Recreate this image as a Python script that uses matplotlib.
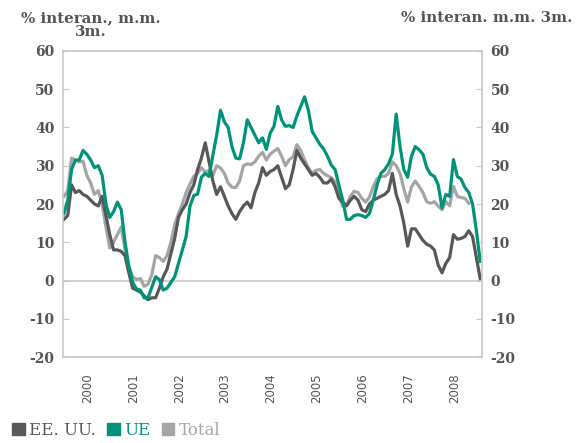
import numpy as np
import matplotlib
matplotlib.use('Agg')
import matplotlib.pyplot as plt
from matplotlib.patches import Patch

plt.rcParams['axes.unicode_minus'] = False

# monthly data, Jan 2000 onwards (% interannual, 3m moving average)
years = ['2000', '2001', '2002', '2003', '2004', '2005', '2006', '2007', '2008']

us = [16, 17, 25, 23, 23.5, 22.5, 22, 21, 20, 19.5, 22, 17,
      12, 8, 8, 7.6, 6.5, 2, -2, -2.5, -3, -4, -5, -4.5,
      -4.5, -2, 1, 3, 7, 11, 16.5, 18.5, 20, 23, 25, 29,
      32, 36, 31, 26, 22.5, 24.5, 22, 19.5, 17.5, 16, 18, 19.5,
      20.5, 19, 23, 25.5, 29.5, 27.5, 28.5, 29, 30, 27, 24, 25,
      29, 34, 32, 30.5, 29, 27.5, 28, 27, 25.5, 25.5, 26.5, 24.5,
      21.5, 20.5, 19.5, 21, 22, 21, 18.5, 18, 20, 21, 21.5, 22,
      22.5, 23.5, 28, 22.5, 19.5, 15, 9, 13.5, 13.5, 12, 10.5, 9.5,
      9, 8, 4, 2, 4.5, 6, 12, 10.8, 11, 11.5, 13, 11.5,
      6, 0.5]

eu = [17.5, 21, 29, 31.5, 31.5, 34, 33, 31.5, 29.5, 30, 27.5, 20,
      16.5, 18, 20.5, 18.5, 10, 3.7, -0.5, -2.2, -2.5, -4.5, -4.5, -1.8,
      1, 0.2, -2.5, -2, -0.5, 1, 4.5, 8, 11.5, 19.4, 22.2, 22.6,
      27, 28, 27.2, 32.8, 38, 44.5, 41.5, 40, 35, 32, 31.8, 36,
      42, 40, 38, 36, 37.3, 34.3, 38.5, 40.3, 45.5, 42, 40.3, 40.5,
      40, 43, 45.5, 48, 44.5, 39, 37.3, 35.6, 34.4, 32.5, 30.2, 29,
      25, 21, 16, 16, 17, 17.2, 17, 16.5, 17.5, 21, 25, 28,
      29, 30.5, 33, 43.5, 35, 29, 27, 32.5, 35, 34.2, 33, 29.5,
      27.8, 27.2, 25, 19, 22.5, 22, 31.6, 27.2, 26.5, 24.3, 23, 20,
      13, 5]

total = [22, 23.5, 32, 31.5, 31, 31.2, 27.5, 25.5, 22.5, 23.5, 20, 14,
         8.5, 10, 12, 14, 8, 3.7, 1, 0.3, 0.5, -1.5, -1, 1.5,
         6.5, 6, 5, 6.5, 10, 14.5, 17.5, 20, 23, 25.2, 27.2, 28,
         29.5, 28.3, 28.8, 27.5, 30, 29.4, 28, 25.5, 24.4, 24.3, 26, 30,
         30.5, 30.3, 31, 32.5, 33.5, 31.5, 33, 33.8, 34.5, 32.5, 30, 31.6,
         32.3, 35.5, 34, 31.5, 29.5, 28, 28.8, 29, 28, 27.4, 26.9, 25.8,
         22.4, 19.4, 19.8, 22, 23.3, 23, 21.5, 20.5, 21.8, 24.5, 26.6, 27.2,
         27.2, 28, 31, 30, 28, 24, 20.5, 24.5, 26, 24.6, 23, 20.6,
         20.2, 20.6, 19.5, 18.5, 20.6, 19.5, 24.6, 22, 21.7, 21.5, 20.2]

c_us = '#58585a'
c_eu = '#00937a'
c_tot = '#a5a5a7'
c_axis = '#c8c8c8'
c_text = '#555555'

fig = plt.figure(figsize=(5.76, 4.43), dpi=100)
ax = fig.add_axes([0.109, 0.194, 0.728, 0.691])

ax.plot(np.arange(len(total)), total, color=c_tot, lw=2.3, solid_joinstyle='round')
ax.plot(np.arange(len(us)), us, color=c_us, lw=2.3, solid_joinstyle='round')
ax.plot(np.arange(len(eu)), eu, color=c_eu, lw=2.3, solid_joinstyle='round')

ax.axhline(0, color=c_axis, lw=1.2, zorder=0)
ax.set_xlim(-0.3, 109.5)
ax.set_ylim(-20, 60)

ax.set_yticks(np.arange(-20, 61, 10))
ax.tick_params(axis='y', direction='in', length=4, color=c_axis, labelcolor=c_text,
               labelsize=10, right=True, labelright=True, pad=6)
for lbl in ax.get_yticklabels():
    lbl.set_fontfamily('DejaVu Serif')
    lbl.set_fontweight('bold')

ax.set_xticks([12 * k + 6.2 for k in range(len(years))])
ax.set_xticklabels(years, rotation=90, fontsize=8.5, color=c_text)
ax.tick_params(axis='x', length=0, pad=12)

for sp in ax.spines.values():
    sp.set_color(c_axis)
    sp.set_linewidth(1.2)

fig.text(0.157, 0.975, '% interan., m.m.\n3m.', ha='center', va='top',
         fontsize=10.8, fontweight='bold', family='DejaVu Serif', color=c_text,
         linespacing=0.95)
fig.text(0.993, 0.975, '% interan. m.m. 3m.', ha='right', va='top',
         fontsize=10.8, fontweight='bold', family='DejaVu Serif', color=c_text)

handles = [Patch(color=c_us), Patch(color=c_eu), Patch(color=c_tot)]
fig.legend(handles, ['EE. UU.', 'UE', 'Total'], loc='lower left',
           bbox_to_anchor=(-0.005, -0.025), ncol=3, frameon=False,
           handlelength=0.75, handleheight=0.75, handletextpad=0.25,
           columnspacing=0.7, labelcolor=[c_us, c_eu, c_tot],
           prop={'family': 'DejaVu Serif', 'size': 12})

fig.savefig('out.png', dpi=100)
